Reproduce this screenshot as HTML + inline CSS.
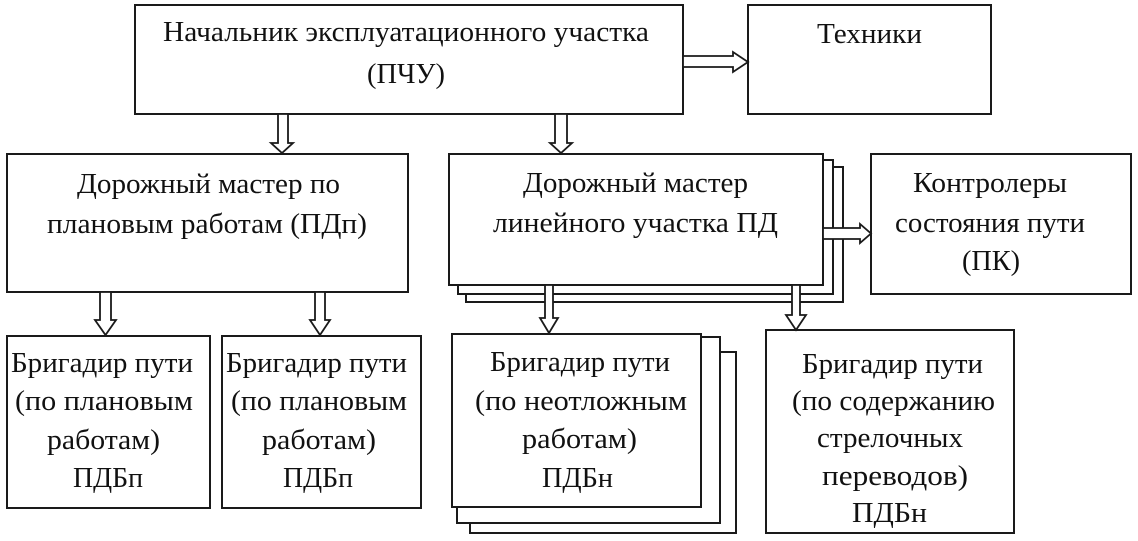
<!DOCTYPE html>
<html>
<head>
<meta charset="utf-8">
<style>
  html, body { margin: 0; padding: 0; background: #ffffff; }
  svg { display: block; }
  text { font-family: "Liberation Serif", "Noto Serif CJK SC", serif; font-size: 28px; fill: #111; }
</style>
</head>
<body>
<svg width="1138" height="541" viewBox="0 0 1138 541" xmlns="http://www.w3.org/2000/svg">
  <rect x="0" y="0" width="1138" height="541" fill="#ffffff"/>
  <g fill="#ffffff" stroke="#1a1a1a" stroke-width="2">
    <rect x="135" y="5" width="548" height="109"/>
    <rect x="748" y="5" width="243" height="109"/>
    <rect x="7" y="154" width="401" height="138"/>
    <rect x="466" y="167" width="377" height="135"/>
    <rect x="458" y="160" width="375" height="134"/>
    <rect x="449" y="154" width="374" height="131"/>
    <rect x="871" y="154" width="260" height="140"/>
    <rect x="7" y="336" width="203" height="172"/>
    <rect x="222" y="336" width="199" height="172"/>
    <rect x="470" y="352" width="266" height="181"/>
    <rect x="457" y="337" width="263" height="186"/>
    <rect x="452" y="334" width="249" height="173"/>
    <rect x="766" y="330" width="248" height="203"/>
  </g>

  <g fill="#ffffff" stroke="#1a1a1a" stroke-width="1.8" stroke-linejoin="miter">
    <polygon points="683,56 733,56 733,52 748,62 733,72 733,67 683,67"/>
    <polygon points="278,114 288,114 288,143 293,143 282,153 271,143 278,143"/>
    <polygon points="555,114 567,114 567,143 572,143 561,153 550,143 555,143"/>
    <polygon points="823,228 860,228 860,224 871,233.5 860,243 860,239 823,239"/>
    <polygon points="100,292 111,292 111,320 116,320 105.5,335 95,320 100,320"/>
    <polygon points="315,292 325,292 325,320 330,320 320,335 310,320 315,320"/>
    <polygon points="545,285 553,285 553,318 558,318 549,333 540,318 545,318"/>
    <polygon points="792,285 800,285 800,315 806,315 796,330 786,315 792,315"/>
  </g>

  <text x="163" y="41" textLength="486" lengthAdjust="spacingAndGlyphs">Начальник эксплуатационного участка</text>
  <text x="367" y="83" textLength="78" lengthAdjust="spacingAndGlyphs">(ПЧУ)</text>

  <text x="817" y="43" textLength="105" lengthAdjust="spacingAndGlyphs">Техники</text>

  <text x="77" y="193" textLength="263" lengthAdjust="spacingAndGlyphs">Дорожный мастер по</text>
  <text x="47" y="233" textLength="320" lengthAdjust="spacingAndGlyphs">плановым работам (ПДп)</text>

  <text x="523" y="192" textLength="225" lengthAdjust="spacingAndGlyphs">Дорожный мастер</text>
  <text x="493" y="232" textLength="285" lengthAdjust="spacingAndGlyphs">линейного участка ПД</text>

  <text x="913" y="192" textLength="154" lengthAdjust="spacingAndGlyphs">Контролеры</text>
  <text x="895" y="232" textLength="190" lengthAdjust="spacingAndGlyphs">состояния пути</text>
  <text x="962" y="270" textLength="58" lengthAdjust="spacingAndGlyphs">(ПК)</text>

  <text x="11" y="372" textLength="182" lengthAdjust="spacingAndGlyphs">Бригадир пути</text>
  <text x="15" y="410" textLength="178" lengthAdjust="spacingAndGlyphs">(по плановым</text>
  <text x="47" y="449" textLength="113" lengthAdjust="spacingAndGlyphs">работам)</text>
  <text x="73" y="487" textLength="70" lengthAdjust="spacingAndGlyphs">ПДБп</text>

  <text x="226" y="372" textLength="181" lengthAdjust="spacingAndGlyphs">Бригадир пути</text>
  <text x="231" y="410" textLength="176" lengthAdjust="spacingAndGlyphs">(по плановым</text>
  <text x="262" y="449" textLength="114" lengthAdjust="spacingAndGlyphs">работам)</text>
  <text x="283" y="487" textLength="70" lengthAdjust="spacingAndGlyphs">ПДБп</text>

  <text x="490" y="371" textLength="180" lengthAdjust="spacingAndGlyphs">Бригадир пути</text>
  <text x="475" y="410" textLength="212" lengthAdjust="spacingAndGlyphs">(по неотложным</text>
  <text x="522" y="448" textLength="115" lengthAdjust="spacingAndGlyphs">работам)</text>
  <text x="542" y="487" textLength="71" lengthAdjust="spacingAndGlyphs">ПДБн</text>

  <text x="802" y="373" textLength="181" lengthAdjust="spacingAndGlyphs">Бригадир пути</text>
  <text x="792" y="410" textLength="203" lengthAdjust="spacingAndGlyphs">(по содержанию</text>
  <text x="817" y="447" textLength="146" lengthAdjust="spacingAndGlyphs">стрелочных</text>
  <text x="822" y="485" textLength="146" lengthAdjust="spacingAndGlyphs">переводов)</text>
  <text x="852" y="522" textLength="75" lengthAdjust="spacingAndGlyphs">ПДБн</text>
</svg>
</body>
</html>
